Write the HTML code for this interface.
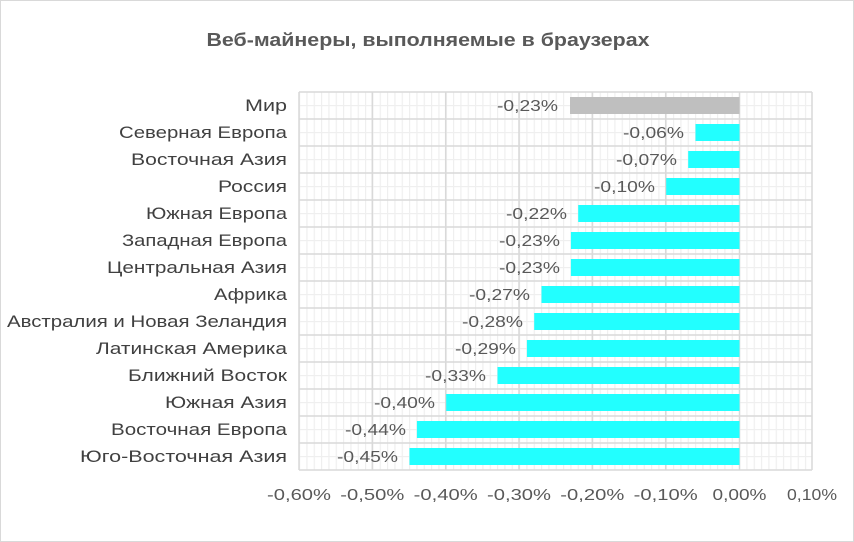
<!DOCTYPE html>
<html><head><meta charset="utf-8"><style>
html,body{margin:0;padding:0;background:#fff}
svg{display:block;font-family:"Liberation Sans",sans-serif}
</style></head><body>
<svg width="854" height="542" viewBox="0 0 854 542" xmlns="http://www.w3.org/2000/svg">
<defs>
<pattern id="mv" x="299" y="0" width="7.333" height="27" patternUnits="userSpaceOnUse">
<rect x="0" y="0" width="1.2" height="27" fill="#efefef"/>
</pattern>
<pattern id="mh" x="0" y="92" width="10" height="27" patternUnits="userSpaceOnUse">
<rect x="0" y="13" width="10" height="1.2" fill="#efefef"/>
</pattern>
</defs>
<rect x="0.5" y="0.5" width="853" height="541" fill="#fff" stroke="#d9d9d9" stroke-width="1"/>
<text x="428" y="46" text-anchor="middle" font-size="18" font-weight="bold" fill="#595959" textLength="443" lengthAdjust="spacingAndGlyphs">Веб-майнеры, выполняемые в браузерах</text>
<rect x="299" y="92" width="513" height="378" fill="url(#mv)"/>
<rect x="299" y="92" width="513" height="378" fill="url(#mh)"/>
<g stroke="#d9d9d9" stroke-width="1.5">
<line x1="299" y1="92" x2="299" y2="470"/><line x1="372.3" y1="92" x2="372.3" y2="470"/><line x1="445.7" y1="92" x2="445.7" y2="470"/><line x1="519" y1="92" x2="519" y2="470"/><line x1="592.3" y1="92" x2="592.3" y2="470"/><line x1="665.7" y1="92" x2="665.7" y2="470"/><line x1="739.5" y1="92" x2="739.5" y2="470"/><line x1="812" y1="92" x2="812" y2="470"/>
<line x1="299" y1="92" x2="812" y2="92"/><line x1="299" y1="119" x2="812" y2="119"/><line x1="299" y1="146" x2="812" y2="146"/><line x1="299" y1="173" x2="812" y2="173"/><line x1="299" y1="200" x2="812" y2="200"/><line x1="299" y1="227" x2="812" y2="227"/><line x1="299" y1="254" x2="812" y2="254"/><line x1="299" y1="281" x2="812" y2="281"/><line x1="299" y1="308" x2="812" y2="308"/><line x1="299" y1="335" x2="812" y2="335"/><line x1="299" y1="362" x2="812" y2="362"/><line x1="299" y1="389" x2="812" y2="389"/><line x1="299" y1="416" x2="812" y2="416"/><line x1="299" y1="443" x2="812" y2="443"/><line x1="299" y1="470" x2="812" y2="470"/>
</g>
<g>
<rect x="570" y="97" width="169.5" height="17" fill="#bfbfbf"/>
<rect x="695.5" y="124" width="44" height="17" fill="#22ffff"/>
<rect x="688.2" y="151" width="51.3" height="17" fill="#22ffff"/>
<rect x="666.2" y="178" width="73.3" height="17" fill="#22ffff"/>
<rect x="578.2" y="205" width="161.3" height="17" fill="#22ffff"/>
<rect x="570.9" y="232" width="168.6" height="17" fill="#22ffff"/>
<rect x="570.9" y="259" width="168.6" height="17" fill="#22ffff"/>
<rect x="541.5" y="286" width="198" height="17" fill="#22ffff"/>
<rect x="534.2" y="313" width="205.3" height="17" fill="#22ffff"/>
<rect x="526.9" y="340" width="212.6" height="17" fill="#22ffff"/>
<rect x="497.5" y="367" width="242" height="17" fill="#22ffff"/>
<rect x="446.2" y="394" width="293.3" height="17" fill="#22ffff"/>
<rect x="416.9" y="421" width="322.6" height="17" fill="#22ffff"/>
<rect x="409.5" y="448" width="330" height="17" fill="#22ffff"/>
</g>
<g font-size="16" fill="#595959" text-anchor="end">
<text x="558" y="111" textLength="61" lengthAdjust="spacingAndGlyphs">-0,23%</text>
<text x="684" y="138" textLength="61" lengthAdjust="spacingAndGlyphs">-0,06%</text>
<text x="677" y="165" textLength="61" lengthAdjust="spacingAndGlyphs">-0,07%</text>
<text x="655" y="192" textLength="61" lengthAdjust="spacingAndGlyphs">-0,10%</text>
<text x="567" y="219" textLength="61" lengthAdjust="spacingAndGlyphs">-0,22%</text>
<text x="560" y="246" textLength="61" lengthAdjust="spacingAndGlyphs">-0,23%</text>
<text x="560" y="273" textLength="61" lengthAdjust="spacingAndGlyphs">-0,23%</text>
<text x="530" y="300" textLength="61" lengthAdjust="spacingAndGlyphs">-0,27%</text>
<text x="523" y="327" textLength="61" lengthAdjust="spacingAndGlyphs">-0,28%</text>
<text x="516" y="354" textLength="61" lengthAdjust="spacingAndGlyphs">-0,29%</text>
<text x="486" y="381" textLength="61" lengthAdjust="spacingAndGlyphs">-0,33%</text>
<text x="435" y="408" textLength="61" lengthAdjust="spacingAndGlyphs">-0,40%</text>
<text x="406" y="435" textLength="61" lengthAdjust="spacingAndGlyphs">-0,44%</text>
<text x="398" y="462" textLength="61" lengthAdjust="spacingAndGlyphs">-0,45%</text>
</g>
<g font-size="17" fill="#404040" text-anchor="end">
<text x="287" y="111" textLength="42" lengthAdjust="spacingAndGlyphs">Мир</text>
<text x="287" y="138" textLength="168" lengthAdjust="spacingAndGlyphs">Северная Европа</text>
<text x="287" y="165" textLength="156" lengthAdjust="spacingAndGlyphs">Восточная Азия</text>
<text x="287" y="192" textLength="69" lengthAdjust="spacingAndGlyphs">Россия</text>
<text x="287" y="219" textLength="141" lengthAdjust="spacingAndGlyphs">Южная Европа</text>
<text x="287" y="246" textLength="165" lengthAdjust="spacingAndGlyphs">Западная Европа</text>
<text x="287" y="273" textLength="180" lengthAdjust="spacingAndGlyphs">Центральная Азия</text>
<text x="287" y="300" textLength="73" lengthAdjust="spacingAndGlyphs">Африка</text>
<text x="287" y="327" textLength="280" lengthAdjust="spacingAndGlyphs">Австралия и Новая Зеландия</text>
<text x="287" y="354" textLength="191" lengthAdjust="spacingAndGlyphs">Латинская Америка</text>
<text x="287" y="381" textLength="159" lengthAdjust="spacingAndGlyphs">Ближний Восток</text>
<text x="287" y="408" textLength="122" lengthAdjust="spacingAndGlyphs">Южная Азия</text>
<text x="287" y="435" textLength="176" lengthAdjust="spacingAndGlyphs">Восточная Европа</text>
<text x="287" y="462" textLength="207" lengthAdjust="spacingAndGlyphs">Юго-Восточная Азия</text>
</g>
<g font-size="16" fill="#595959" text-anchor="middle">
<text x="299" y="500" textLength="64" lengthAdjust="spacingAndGlyphs">-0,60%</text>
<text x="372.3" y="500" textLength="64" lengthAdjust="spacingAndGlyphs">-0,50%</text>
<text x="445.7" y="500" textLength="64" lengthAdjust="spacingAndGlyphs">-0,40%</text>
<text x="519" y="500" textLength="64" lengthAdjust="spacingAndGlyphs">-0,30%</text>
<text x="592.3" y="500" textLength="64" lengthAdjust="spacingAndGlyphs">-0,20%</text>
<text x="665.7" y="500" textLength="64" lengthAdjust="spacingAndGlyphs">-0,10%</text>
<text x="739.5" y="500" textLength="54" lengthAdjust="spacingAndGlyphs">0,00%</text>
<text x="812" y="500" textLength="50" lengthAdjust="spacingAndGlyphs">0,10%</text>
</g>
</svg>
</body></html>
